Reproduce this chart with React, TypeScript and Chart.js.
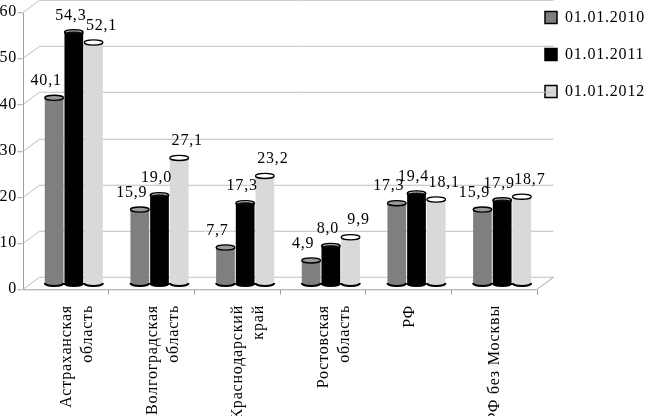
import React, { useEffect, useRef } from "react";
import { Chart, registerables } from "chart.js";

Chart.register(...registerables);

const CATEGORIES: (string | string[])[] = [
  ["Астраханская", "область"],
  ["Волгоградская", "область"],
  ["Краснодарский", "край"],
  ["Ростовская", "область"],
  "РФ",
  "РФ без Москвы",
];
const SERIES_NAMES = ["01.01.2010", "01.01.2011", "01.01.2012"];
const VALUES_2010 = [40.1, 15.9, 7.7, 4.9, 17.3, 15.9];
const VALUES_2011 = [54.3, 19.0, 17.3, 8.0, 19.4, 17.9];
const VALUES_2012 = [52.1, 27.1, 23.2, 9.9, 18.1, 18.7];
const Y_MIN = 0;
const Y_MAX = 60;
const Y_STEP = 10;

const BAR_COLORS = ["#7f7f7f", "#000000", "#d9d9d9"];
const CAP_FILL = ["#9a9a9a", "#0a0a0a", "#ffffff"];
const LABEL_DX = [-8, -3, 8];
const FONT = "'Liberation Serif', 'Times New Roman', serif";
const FONT_SIZE = 16;
const LETTER_SPACING = "0.8px";
const DX = 8.5;
const DY = 6.25;
const GRID = "#bdbdbd";
const FRAME = "#a0a0a0";

const fmt = (v: number) => v.toFixed(1).replace(".", ",");

const spacingPlugin = {
  id: "spacing",
  beforeUpdate(chart: any) {
    chart.ctx.letterSpacing = LETTER_SPACING;
  },
  beforeDraw(chart: any) {
    chart.ctx.letterSpacing = LETTER_SPACING;
  },
  afterLayout(chart: any) {
    const lg = chart.legend;
    if (lg) {
      lg.left = chart.chartArea.right - 21;
      lg.top = -11.5;
    }
  },
};

const framePlugin = {
  id: "frame3d",
  beforeDatasetsDraw(chart: any) {
    const { ctx, chartArea: a, scales } = chart;
    const x = scales.x;
    const y = scales.y;
    const line = (x1: number, y1: number, x2: number, y2: number, c: string) => {
      ctx.beginPath();
      ctx.strokeStyle = c;
      ctx.moveTo(x1, y1);
      ctx.lineTo(x2, y2);
      ctx.stroke();
    };
    ctx.save();
    ctx.lineWidth = 1;
    y.ticks.forEach((t: any) => {
      const py = Math.round(y.getPixelForValue(t.value)) + 0.5;
      line(a.left - DX, py + DY, a.left + DX, py - DY, GRID);
      line(a.left + DX, py - DY, a.right + DX, py - DY, GRID);
      line(a.left - DX - 5, py + DY, a.left - DX, py + DY, FRAME);
    });
    const y0 = Math.round(y.getPixelForValue(Y_MIN)) + 0.5;
    const yTop = Math.round(y.getPixelForValue(Y_MAX)) + 0.5;
    const fx = Math.round(a.left - DX) + 0.5;
    line(fx, y0 + DY, fx, yTop + DY, FRAME);
    line(fx, y0 + DY, a.right - DX, y0 + DY, FRAME);
    line(a.right - DX, y0 + DY, a.right + DX, y0 - DY, FRAME);
    const n = x.ticks.length;
    const catW = n > 1 ? x.getPixelForValue(1) - x.getPixelForValue(0) : a.right - a.left;
    for (let i = 0; i < n; i++) {
      const bx = Math.round(x.getPixelForValue(i) + catW / 2 - DX) + 0.5;
      line(bx, y0 + DY, bx, y0 + DY + 5, FRAME);
    }
    ctx.restore();
  },
  afterDatasetsDraw(chart: any) {
    const { ctx } = chart;
    ctx.save();
    chart.data.datasets.forEach((ds: any, di: number) => {
      const meta = chart.getDatasetMeta(di);
      meta.data.forEach((bar: any, i: number) => {
        const { x: bx, y: by, base, width } = bar.getProps(["x", "y", "base", "width"], true);
        const rx = width / 2;
        // bottom rounded edge
        ctx.beginPath();
        ctx.ellipse(bx, base, rx, 3, 0, 0, Math.PI);
        ctx.fillStyle = BAR_COLORS[di];
        ctx.fill();
        ctx.lineWidth = 2;
        ctx.strokeStyle = "#000";
        ctx.stroke();
        // top cap
        ctx.beginPath();
        ctx.ellipse(bx, by, rx, 2.6, 0, 0, Math.PI * 2);
        ctx.fillStyle = CAP_FILL[di];
        ctx.fill();
        ctx.lineWidth = 1.3;
        ctx.strokeStyle = "#000";
        ctx.stroke();
        if (di === 1) {
          ctx.beginPath();
          ctx.ellipse(bx, by, rx - 1.5, 1.4, 0, Math.PI, Math.PI * 2);
          ctx.lineWidth = 1;
          ctx.strokeStyle = "#cfcfcf";
          ctx.stroke();
        }
        // value label
        ctx.font = `${FONT_SIZE}px ${FONT}`;
        ctx.fillStyle = "#000";
        ctx.textAlign = "center";
        ctx.textBaseline = "middle";
        ctx.fillText(fmt(ds.data[i]), bx + LABEL_DX[di], by - 17);
      });
    });
    ctx.restore();
  },
};

export default function App() {
  const ref = useRef<HTMLCanvasElement>(null);
  useEffect(() => {
    document.body.style.margin = "0";
    const series = [VALUES_2010, VALUES_2011, VALUES_2012];
    const chart = new Chart(ref.current!, {
      type: "bar",
      data: {
        labels: CATEGORIES,
        datasets: series.map((vals, i) => ({
          label: SERIES_NAMES[i],
          data: vals,
          backgroundColor: BAR_COLORS[i],
          borderWidth: 0,
          categoryPercentage: 0.69,
          barPercentage: 0.95,
        })),
      },
      options: {
        responsive: false,
        animation: false,
        devicePixelRatio: 1,
        layout: { padding: { top: 6, left: 0, right: 0, bottom: 0 } },
        plugins: {
          tooltip: { enabled: false },
          legend: {
            position: "right",
            align: "start",
            maxWidth: 103,
            labels: {
              boxWidth: 12,
              boxHeight: 12,
              padding: 21,
              color: "#000",
              textAlign: "left",
              font: { family: FONT, size: FONT_SIZE },
              generateLabels: (c: any) =>
                Chart.defaults.plugins.legend.labels
                  .generateLabels(c)
                  .map((l: any) => ({ ...l, strokeStyle: "#000", lineWidth: 1.5 })),
            },
          },
        },
        scales: {
          x: {
            grid: { display: false },
            border: { display: false },
            ticks: {
              autoSkip: false,
              minRotation: 90,
              maxRotation: 90,
              padding: 14,
              labelOffset: -7,
              color: "#000",
              font: { family: FONT, size: FONT_SIZE, lineHeight: 1.3 },
            },
            afterFit: (s: any) => {
              s.height = 133;
              s.paddingLeft = 0;
              s.paddingRight = 0;
            },
          },
          y: {
            min: Y_MIN,
            max: Y_MAX,
            grid: { display: false, drawTicks: false },
            border: { display: false },
            ticks: {
              stepSize: Y_STEP,
              padding: 14,
              labelOffset: 6,
              color: "#000",
              font: { family: FONT, size: FONT_SIZE },
            },
            afterFit: (s: any) => {
              s.width = 31;
              s.paddingTop = 0;
              s.paddingBottom = 0;
            },
          },
        },
      },
      plugins: [spacingPlugin, framePlugin],
    } as any);
    return () => chart.destroy();
  }, []);
  return (
    <div style={{ width: 648, height: 416, background: "#fff" }}>
      <canvas ref={ref} width={648} height={416} style={{ display: "block", width: 648, height: 416 }} />
    </div>
  );
}
